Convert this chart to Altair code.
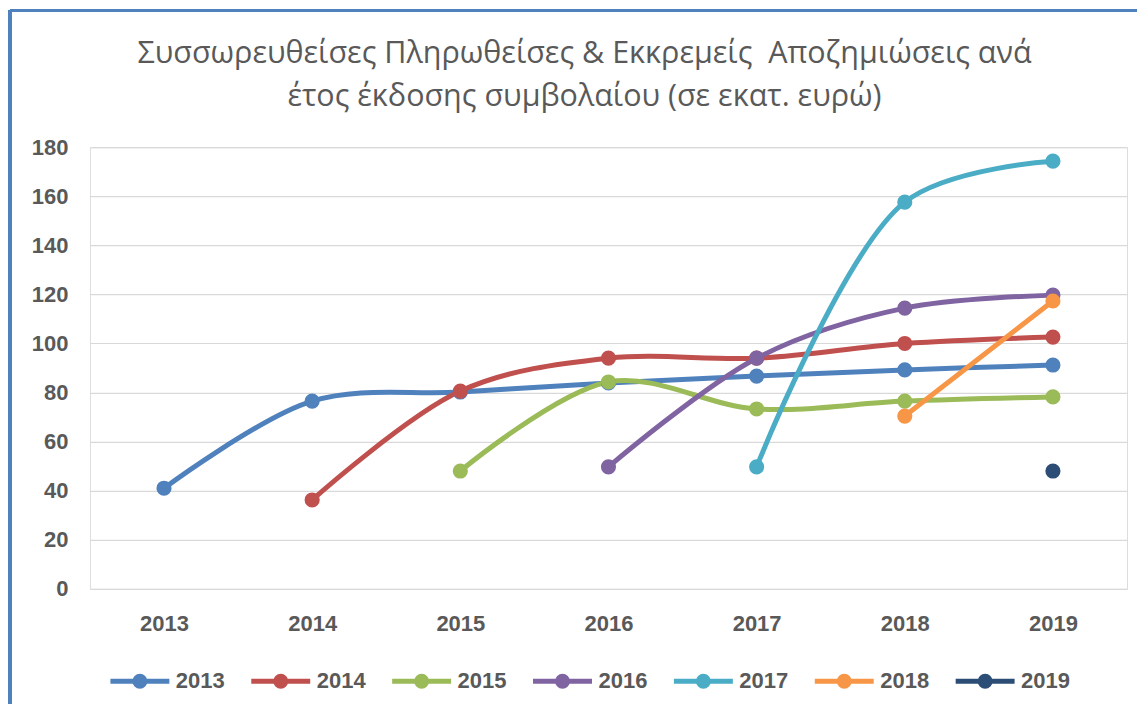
import altair as alt
import pandas as pd

years = ["2013", "2014", "2015", "2016", "2017", "2018", "2019"]
series_names = ["2013", "2014", "2015", "2016", "2017", "2018", "2019"]
s2013 = [41.0, 76.5, 80.2, 83.9, 86.7, 89.2, 91.2]
s2014 = [None, 36.2, 80.6, 94.0, 94.0, 100.0, 102.6]
s2015 = [None, None, 48.0, 84.3, 73.3, 76.5, 78.2]
s2016 = [None, None, None, 49.7, 94.0, 114.4, 119.7]
s2017 = [None, None, None, None, 49.7, 157.6, 174.3]
s2018 = [None, None, None, None, None, 70.4, 117.3]
s2019 = [None, None, None, None, None, None, 48.0]
colors = ["#4F81BD", "#C0504D", "#9BBB59", "#8064A2", "#4BACC6", "#F79646", "#2C4D75"]

all_series = [s2013, s2014, s2015, s2016, s2017, s2018, s2019]
rows = []
for name, vals in zip(series_names, all_series):
    for yr, v in zip(years, vals):
        if v is not None:
            rows.append({"year": yr, "series": name, "value": v})
df = pd.DataFrame(rows)

W, H = 1038, 442
LEFT, TOP = 82, 139
FONT = "Liberation Sans, Arial, sans-serif"
TITLE_FONT = "Open Sans, Liberation Sans, sans-serif"
GREY = "#595959"

x_enc = alt.X("year:N", sort=years, scale=alt.Scale(type="point", padding=0.5),
              axis=alt.Axis(title=None, labelAngle=0, domain=False, ticks=False,
                            labelFont=FONT, labelFontSize=22, labelFontWeight="bold",
                            labelColor=GREY, labelPadding=25))
y_enc = alt.Y("value:Q", scale=alt.Scale(domain=[0, 180], nice=False),
              axis=alt.Axis(title=None, values=list(range(0, 181, 20)), domain=False, ticks=False,
                            grid=True, gridColor="#D9D9D9", gridWidth=1.2,
                            labelFont=FONT, labelFontSize=22, labelFontWeight="bold",
                            labelColor=GREY, labelPadding=22))
color_scale = alt.Scale(domain=series_names, range=colors)

legend_symbol = ("M-1,0 L1,0 "
                 "M-0.085,0 A0.085,0.085 0 1,1 0.085,0 A0.085,0.085 0 1,1 -0.085,0 "
                 "M-0.17,0 A0.17,0.17 0 1,1 0.17,0 A0.17,0.17 0 1,1 -0.17,0")
legend = alt.Legend(title=None, orient="none", direction="horizontal",
                    legendX=18, legendY=502,
                    symbolType=legend_symbol, symbolSize=3481,
                    symbolStrokeWidth=5, symbolOpacity=1,
                    labelFont=FONT, labelFontSize=22, labelFontWeight="bold",
                    labelColor=GREY, labelOffset=4, columnPadding=16)

base = alt.Chart(df)
lines = base.mark_line(interpolate="catmull-rom", strokeWidth=5, strokeCap="round").encode(
    x=x_enc, y=y_enc,
    color=alt.Color("series:N", scale=color_scale, legend=legend),
    detail="series:N",
)
points = base.mark_point(filled=True, size=230, opacity=1).encode(
    x=x_enc, y=y_enc,
    color=alt.Color("series:N", scale=color_scale, legend=legend),
)

frame_left = alt.Chart(df).mark_rule(color="#4F81BD", strokeWidth=2.5).encode(
    x=alt.value(-80), y=alt.value(-137), y2=alt.value(580))
frame_top = alt.Chart(df).mark_rule(color="#4F81BD", strokeWidth=2.5).encode(
    x=alt.value(-80), x2=alt.value(1070), y=alt.value(-137))

chart = alt.layer(frame_left, frame_top, lines, points).properties(
    width=W, height=H,
    title=alt.Title(["Συσσωρευθείσες Πληρωθείσες & Εκκρεμείς\u00a0 Αποζημιώσεις ανά",
                     "έτος έκδοσης συμβολαίου (σε εκατ. ευρώ)"],
                    font=TITLE_FONT, fontSize=30.5, fontWeight="normal", color=GREY,
                    anchor="middle", dx=-24, offset=36, dy=140, lineHeight=44),
    autosize=alt.AutoSizeParams(type="none"),
    padding={"left": LEFT, "top": TOP, "right": 10, "bottom": 115},
).configure_view(strokeWidth=0).configure(background="white")

chart.save("out.html", embed_options={"renderer": "svg", "actions": False})
